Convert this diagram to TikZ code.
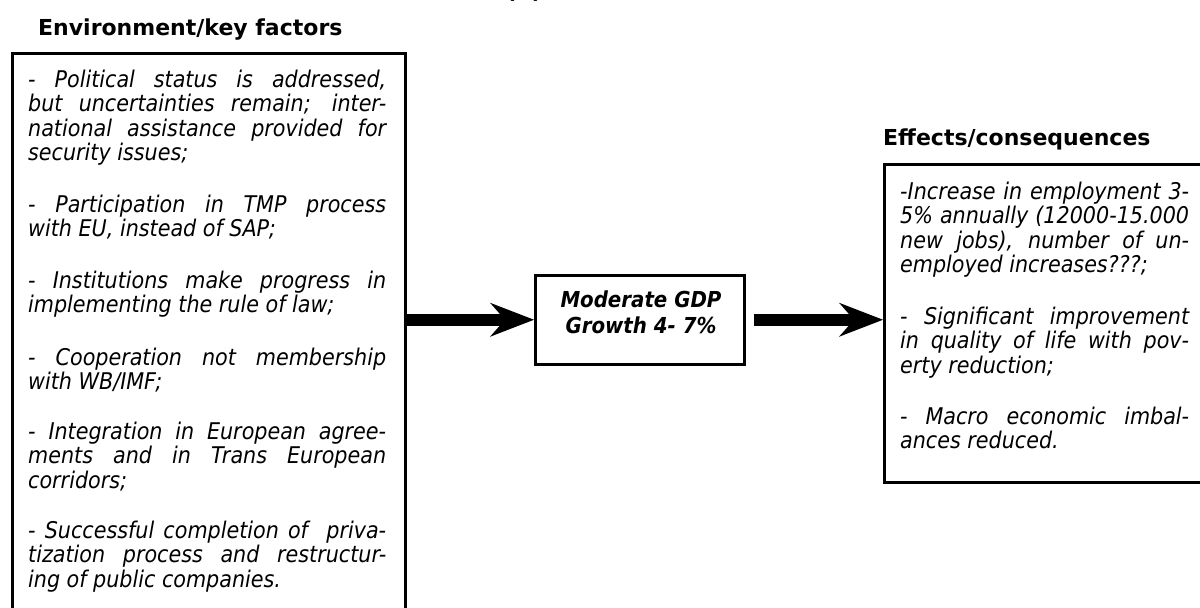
\documentclass[tikz,border=0pt]{standalone}
\usepackage{fontspec}
\setmainfont{DejaVu Sans Condensed}
\newfontfamily\headfont{DejaVu Sans}
\usetikzlibrary{arrows.meta}
\tolerance=10000
\hyphenpenalty=10000
\tikzset{
  heading/.style={font=\headfont\bfseries\fontsize{22}{26}\selectfont, anchor=base west, inner sep=0pt},
  para/.style={font=\itshape\fontsize{23}{24.6}\selectfont, anchor=base west, inner sep=0pt, align=justify},
  panel/.style={draw, line width=2.5pt, anchor=north west, inner sep=0pt},
  flow/.style={line width=12pt, -{Stealth[length=44pt, width=34pt, inset=15pt, line width=0pt]}},
}
\begin{document}
\begin{tikzpicture}[x=1pt, y=1pt]
\useasboundingbox (0,0) rectangle (1200,-608);
% caption at the very top, cut by the edge
\node[font=\headfont\bfseries\fontsize{22}{26}\selectfont, anchor=base, inner sep=0pt] (cap) at (524,1.5) {(b)};
% left panel
\node[heading] (envtitle) at (38,-35) {Environment/key factors};
\node[panel, minimum width=393pt, minimum height=580pt] (envbox) at (11,-52) {};
\node[para, text width=358pt] (e1) at (28,-87) {- Political status is addressed,\linebreak but uncertainties remain; inter-\linebreak national assistance provided for\linebreak security issues;};
\node[para, text width=358pt] (e2) at (28,-212) {- Participation in TMP process\linebreak with EU, instead of SAP;};
\node[para, text width=358pt] (e3) at (28,-288) {- Institutions make progress in\linebreak implementing the rule of law;};
\node[para, text width=358pt] (e4) at (28,-365) {- Cooperation not membership\linebreak with WB/IMF;};
\node[para, text width=358pt] (e5) at (28,-439) {- Integration in European agree-\linebreak ments and in Trans European\linebreak corridors;};
\node[para, text width=358pt] (e6) at (28,-538) {- Successful completion of\ \ priva-\linebreak tization process and restructur-\linebreak ing of public companies.};
% middle box
\node[panel, minimum width=209pt, minimum height=89pt] (gdp) at (534,-274) {};
\node[font=\bfseries\itshape\fontsize{22}{26}\selectfont, anchor=base, inner sep=0pt, align=center] (gdptext) at (641,-333) {Moderate GDP\\Growth 4- 7\%};
% right panel
\node[heading] (efftitle) at (883,-145) {Effects/consequences};
\node[panel, minimum width=340pt, minimum height=318pt] (effbox) at (883,-163) {};
\node[para, text width=289pt] (f1) at (900,-199) {-Increase in employment 3-\linebreak 5\% annually (12000-15.000\linebreak new jobs), number of un-\linebreak employed increases???;};
\node[para, text width=289pt] (f2) at (900,-324) {- Significant improvement\linebreak in quality of life with pov-\linebreak erty reduction;};
\node[para, text width=289pt] (f3) at (900,-424) {- Macro economic imbal-\linebreak ances reduced.};
% arrows
\draw[flow] (gdp.west -| envbox.east) -- (gdp.west);
\draw[flow] ([xshift=8pt]gdp.east) -- (gdp.east -| effbox.west);
\end{tikzpicture}
\end{document}
